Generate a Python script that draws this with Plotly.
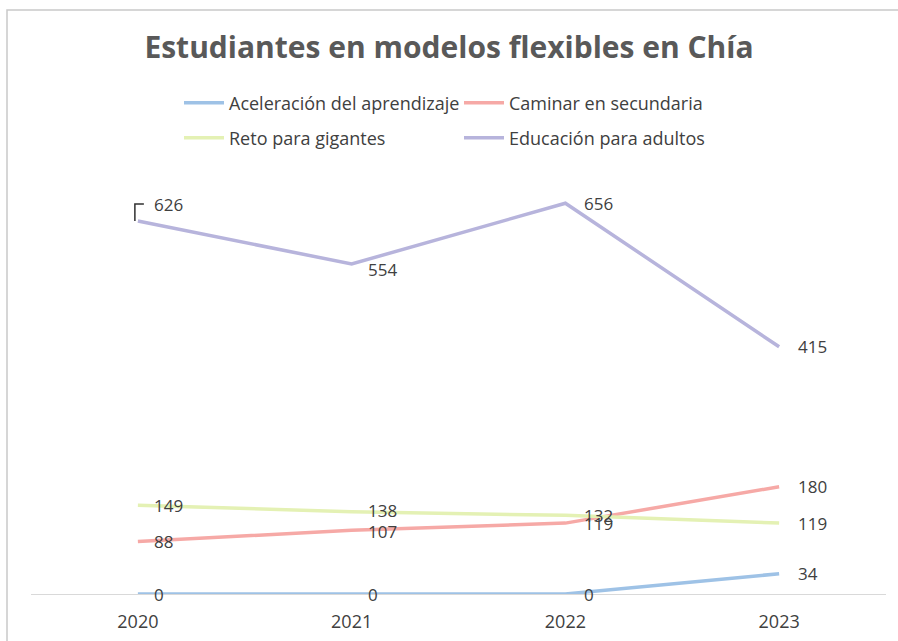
import plotly.graph_objects as go

years = ["2020", "2021", "2022", "2023"]
aceleracion = [0, 0, 0, 34]
caminar = [88, 107, 119, 180]
reto = [149, 138, 132, 119]
educacion = [626, 554, 656, 415]

series_names = ["Aceleración del aprendizaje", "Caminar en secundaria",
                "Reto para gigantes", "Educación para adultos"]
series_values = [aceleracion, caminar, reto, educacion]
colors = ["#9EC2E6", "#F6A9A6", "#E4F1B4", "#B7B4DC"]
legend_ids = ["legend", "legend", "legend2", "legend2"]

FONT = "Open Sans"
TEXT = "#404040"

L, R, T, B = 31, 12, 177, 47
W, H = 898, 641

fig = go.Figure()
for name, vals, col, lg in zip(series_names, series_values, colors, legend_ids):
    fig.add_trace(go.Scatter(
        x=years, y=vals, name=name, mode="lines",
        line=dict(color=col, width=3.5), cliponaxis=False, legend=lg,
        hoverinfo="skip"))

# data labels (category axis: annotations positioned by category index)
special_yshift = {("Educación para adultos", 0): 17,
                  ("Educación para adultos", 1): -6,
                  ("Reto para gigantes", 1): 1,
                  ("Caminar en secundaria", 1): -1}
for name, vals in zip(series_names, series_values):
    for i, v in enumerate(vals):
        fig.add_annotation(
            x=i, y=v, xref="x", yref="y", text=str(v), showarrow=False,
            xanchor="left", yanchor="middle", xshift=14 if i < 2 else 17,
            yshift=special_yshift.get((name, i), 0),
            font=dict(family=FONT, size=17, color=TEXT))

# leader line for 626 label
fig.add_shape(type="path", xref="x", yref="y", xsizemode="pixel", ysizemode="pixel",
              xanchor=0, yanchor=educacion[0],
              path="M-3,0 L-3,17 L6,17", line=dict(color="#303030", width=1.5))

# chart frame (only top and left edges visible in the reference)
pw, ph = W - L - R, H - T - B
fig.add_shape(type="rect", xref="paper", yref="paper",
              x0=(7 - L) / pw, x1=1.2, y0=-0.3, y1=(H - B - 10) / ph,
              line=dict(color="#C9C9C9", width=1.5), layer="below")

fig.update_layout(
    width=W, height=H,
    paper_bgcolor="white", plot_bgcolor="white",
    margin=dict(l=L, r=R, t=T, b=B),
    title=dict(text="<b>Estudiantes en modelos flexibles en Chía</b>",
               x=0.5, xanchor="center", xref="container",
               y=1 - 47 / H, yanchor="middle", yref="container",
               font=dict(family=FONT, size=30, color="#595959")),
    xaxis=dict(type="category", range=[-0.5, 3.5], showgrid=False,
               showline=True, linecolor="#D9D9D9", linewidth=1, ticks="",
               ticklabelstandoff=11, automargin=False,
               tickfont=dict(family=FONT, size=18, color=TEXT), zeroline=False),
    yaxis=dict(range=[0, 700], showticklabels=False, showline=False,
               showgrid=False, zeroline=False, ticks="", automargin=False),
    legend=dict(orientation="h", xref="container", yref="container",
                x=179 / W, y=1 - 103 / H, xanchor="left", yanchor="middle",
                entrywidth=225, itemwidth=40,
                font=dict(family=FONT, size=18, color=TEXT), bgcolor="rgba(0,0,0,0)"),
    legend2=dict(orientation="h", xref="container", yref="container",
                 x=179 / W, y=1 - 138 / H, xanchor="left", yanchor="middle",
                 entrywidth=225, itemwidth=40,
                 font=dict(family=FONT, size=18, color=TEXT), bgcolor="rgba(0,0,0,0)"),
    showlegend=True,
)

fig.write_html("out.html", config={"displayModeBar": False},
               post_script="document.body.style.margin='0';")
